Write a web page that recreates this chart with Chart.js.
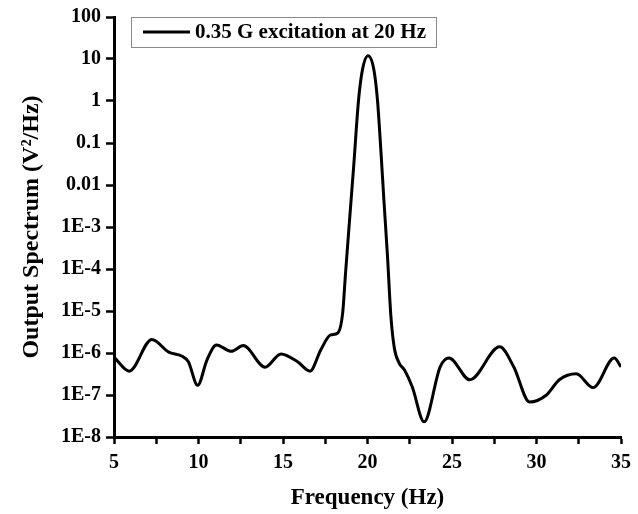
<!DOCTYPE html>
<html>
<head>
<meta charset="utf-8">
<script src="https://cdn.jsdelivr.net/npm/chart.js@4.4.1/dist/chart.umd.min.js"></script>
<style>
  html, body { margin: 0; padding: 0; background: #fff; }
  #wrap { width: 638px; height: 514px; }
</style>
</head>
<body>
<div id="wrap"><canvas id="spectrum-chart" width="638" height="514"></canvas></div>
<script>
// values
const seriesLabel = '0.35 G excitation at 20 Hz';
const freqHz = [5.0, 5.9, 7.24, 8.24, 9.0, 9.4, 9.95, 10.5, 11.06, 11.94, 12.65, 13.94, 14.88, 15.88,
  16.6, 17.24, 17.82, 18.24, 18.53, 18.7, 18.94, 19.18, 19.47, 19.7, 20.03, 20.38, 20.59, 20.79,
  20.97, 21.18, 21.38, 21.59, 21.88, 22.18, 22.65, 23.35, 24.3, 24.82, 26.06, 27.82, 28.65, 29.59,
  30.59, 31.35, 32.35, 33.35, 34.6, 35.0];
const spectrum = [8.0e-7, 3.7e-7, 2.1e-6, 1.05e-6, 8.5e-7, 6.2e-7, 1.7e-7, 6.8e-7, 1.55e-6, 1.1e-6,
  1.5e-6, 4.6e-7, 9.5e-7, 6.1e-7, 3.7e-7, 1.2e-6, 2.7e-6, 3.0e-6, 8.9e-6, 7.9e-5, 1.5e-3, 2.7e-2,
  1.05, 5.5, 12, 5.5, 1.05, 6.8e-2, 4.4e-3, 2.1e-4, 7.9e-6, 1.3e-6, 5.7e-7, 4.0e-7, 1.55e-7, 2.3e-8,
  4.7e-7, 7.6e-7, 2.3e-7, 1.4e-6, 4.7e-7, 6.8e-8, 1.0e-7, 2.3e-7, 3.2e-7, 1.5e-7, 7.6e-7, 4.7e-7];
const yTickValues = [1e-8, 1e-7, 1e-6, 1e-5, 1e-4, 1e-3, 0.01, 0.1, 1, 10, 100];
const yTickLabels = ['1E-8', '1E-7', '1E-6', '1E-5', '1E-4', '1E-3', '0.01', '0.1', '1', '10', '100'];
const xLabelTicks = [5, 10, 15, 20, 25, 30, 35];

const serif = "'Liberation Serif', 'Times New Roman', serif";

// legend drawn as a framed box inside the plot, like the original
const legendBox = {
    id: 'legendBox',
    afterDraw(chart) {
        const ctx = chart.ctx;
        const a = chart.chartArea;
        const x = a.left + 17, y = a.top, h = 30, w = 305;
        ctx.save();
        ctx.strokeStyle = '#8a8a8a';
        ctx.lineWidth = 1;
        ctx.strokeRect(x + 0.5, y + 0.5, w, h);
        ctx.strokeStyle = '#000';
        ctx.lineWidth = 3;
        ctx.beginPath();
        ctx.moveTo(x + 12, y + h / 2);
        ctx.lineTo(x + 59, y + h / 2);
        ctx.stroke();
        ctx.fillStyle = '#000';
        ctx.font = "bold 21px " + serif;
        ctx.textBaseline = 'middle';
        ctx.fillText(chart.data.datasets[0].label, x + 64, y + h / 2 + 1);
        ctx.restore();
    }
};

var config = {
    type: 'line',
    data: {
        datasets: [{
            label: seriesLabel,
            data: freqHz.map((f, i) => ({x: f, y: spectrum[i]})),
            borderColor: '#000',
            borderWidth: 3,
            pointRadius: 0,
            fill: false,
            cubicInterpolationMode: 'monotone'
        }]
    },
    options: {
        responsive: false,
        animation: false,
        layout: {padding: {top: 17, right: 13, left: 0, bottom: 0}},
        plugins: {
            legend: {display: false},
            tooltip: {enabled: false}
        },
        scales: {
            x: {
                type: 'linear',
                min: 5,
                max: 35,
                afterFit: (scale) => { scale.height = 77; },
                border: {display: true, color: '#000', width: 3},
                grid: {drawOnChartArea: false, color: '#000', tickLength: 7, tickWidth: 2.5},
                ticks: {
                    stepSize: 2.5,
                    autoSkip: false,
                    maxRotation: 0,
                    padding: 7,
                    color: '#000',
                    font: {family: serif, size: 20, weight: 'bold'},
                    callback: (v) => xLabelTicks.includes(v) ? String(v) : ''
                },
                title: {
                    display: true,
                    text: 'Frequency (Hz)',
                    color: '#000',
                    font: {family: serif, size: 23, weight: 'bold'},
                    padding: {top: 0, bottom: 2}
                }
            },
            y: {
                type: 'logarithmic',
                min: 1e-8,
                max: 100,
                afterFit: (scale) => { scale.width = 114; },
                afterBuildTicks: (scale) => { scale.ticks = yTickValues.map(v => ({value: v})); },
                border: {display: true, color: '#000', width: 3},
                grid: {drawOnChartArea: false, color: '#000', tickLength: 8, tickWidth: 2.5},
                ticks: {
                    padding: 5,
                    color: '#000',
                    font: {family: serif, size: 20, weight: 'bold'},
                    callback: (v) => {
                        const i = yTickValues.findIndex(t => Math.abs(Math.log10(t) - Math.log10(v)) < 1e-6);
                        return i >= 0 ? yTickLabels[i] : '';
                    }
                },
                title: {
                    display: true,
                    text: 'Output Spectrum (V²/Hz)',
                    color: '#000',
                    font: {family: serif, size: 24, weight: 'bold'},
                    padding: {top: 17, bottom: 0}
                }
            }
        }
    },
    plugins: [legendBox]
};

var ctx = document.getElementById('spectrum-chart').getContext('2d');
window.spectrumChart = new Chart(ctx, config);
</script>
</body>
</html>
